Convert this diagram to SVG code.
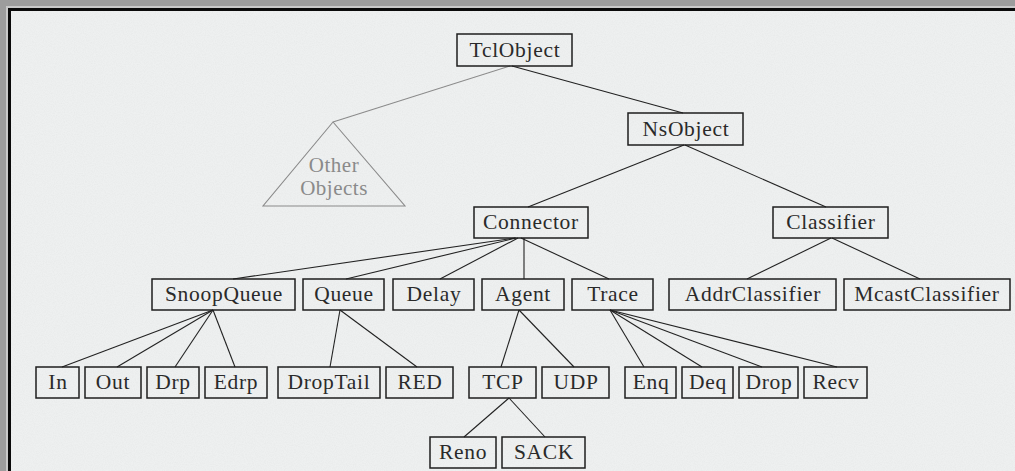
<svg xmlns="http://www.w3.org/2000/svg" width="1015" height="471" viewBox="0 0 1015 471">
  <defs>
    <style>
      .box { fill: none; stroke: #1e1e1e; stroke-width: 1.5; }
      .lbl { font-family: "Liberation Serif", "Times New Roman", serif; font-size: 21.5px; letter-spacing: 0.7px; fill: #2a2a2a; text-anchor: middle; }
      .edge { stroke: #222; stroke-width: 1.1; fill: none; }
      .faint { stroke: #8a8a8a; stroke-width: 1.1; fill: none; }
      .faint-lbl { font-family: "Liberation Serif", "Times New Roman", serif; font-size: 21px; letter-spacing: 0.5px; fill: #8a8a8a; text-anchor: middle; }
    </style>
    <filter id="grain" x="0" y="0" width="100%" height="100%">
      <feTurbulence type="fractalNoise" baseFrequency="0.9" numOctaves="2" seed="3" result="n"/>
      <feColorMatrix in="n" type="matrix" values="0 0 0 0 0.6  0 0 0 0 0.61  0 0 0 0 0.61  0 0 0 -1.6 1.05"/>
    </filter>
  </defs>

  <!-- canvas and window frame -->
  <rect x="0" y="0" width="1015" height="471" fill="#eef0f0"/>
  <rect x="0" y="0" width="1015" height="471" filter="url(#grain)" opacity="0.18"/>
  <rect x="0" y="0" width="1015" height="6" fill="#9d9d9d"/>
  <rect x="0" y="0" width="6" height="471" fill="#9d9d9d"/>
  <rect x="6" y="6" width="1009" height="2" fill="#c9c9c9"/>
  <rect x="6" y="6" width="2" height="465" fill="#c9c9c9"/>
  <rect x="8" y="8" width="1007" height="3" fill="#0a0a0a"/>
  <rect x="8" y="8" width="3" height="463" fill="#0a0a0a"/>

  <!-- connectors -->
  <g id="edges">
    <line class="faint" x1="510" y1="66" x2="333" y2="122"/>
    <line class="edge" x1="512" y1="66" x2="683" y2="113"/>
    <line class="edge" x1="684" y1="145" x2="528" y2="207"/>
    <line class="edge" x1="685" y1="145" x2="826" y2="207"/>
    <line class="edge" x1="515" y1="238" x2="233" y2="279"/>
    <line class="edge" x1="516" y1="238" x2="346" y2="279"/>
    <line class="edge" x1="518" y1="238" x2="440" y2="279"/>
    <line class="edge" x1="524" y1="238" x2="524" y2="279"/>
    <line class="edge" x1="521" y1="238" x2="609" y2="279"/>
    <line class="edge" x1="831" y1="238" x2="747" y2="279"/>
    <line class="edge" x1="832" y1="238" x2="920" y2="279"/>
    <line class="edge" x1="213" y1="310" x2="62" y2="367"/>
    <line class="edge" x1="213" y1="310" x2="117" y2="367"/>
    <line class="edge" x1="213" y1="310" x2="175" y2="367"/>
    <line class="edge" x1="213" y1="310" x2="235" y2="367"/>
    <line class="edge" x1="340" y1="310" x2="330" y2="367"/>
    <line class="edge" x1="340" y1="310" x2="417" y2="367"/>
    <line class="edge" x1="519" y1="310" x2="501" y2="367"/>
    <line class="edge" x1="519" y1="310" x2="574" y2="367"/>
    <line class="edge" x1="610" y1="310" x2="644" y2="367"/>
    <line class="edge" x1="610" y1="310" x2="702" y2="367"/>
    <line class="edge" x1="610" y1="310" x2="762" y2="367"/>
    <line class="edge" x1="610" y1="310" x2="837" y2="367"/>
    <line class="edge" x1="509" y1="398" x2="464" y2="437"/>
    <line class="edge" x1="509" y1="398" x2="545" y2="437"/>
  </g>

  <!-- collapsed subtree -->
  <g id="other-objects">
    <polygon class="faint" points="333,122 263,206 405,206"/>
    <text class="faint-lbl" x="334" y="172">Other</text>
    <text class="faint-lbl" x="334" y="195">Objects</text>
  </g>

  <!-- level 0-1 -->
  <g id="TclObject"><rect class="box" x="457" y="34" width="115" height="32"/><text class="lbl" x="515" y="57">TclObject</text></g>
  <g id="NsObject"><rect class="box" x="628" y="113" width="115" height="32"/><text class="lbl" x="686" y="136">NsObject</text></g>

  <!-- level 2 -->
  <g id="Connector"><rect class="box" x="474" y="207" width="114" height="31"/><text class="lbl" x="531" y="229">Connector</text></g>
  <g id="Classifier"><rect class="box" x="773" y="207" width="115" height="31"/><text class="lbl" x="831" y="229">Classifier</text></g>

  <!-- level 3 -->
  <g id="SnoopQueue"><rect class="box" x="152" y="279" width="143" height="31"/><text class="lbl" x="224" y="301">SnoopQueue</text></g>
  <g id="Queue"><rect class="box" x="303" y="279" width="81" height="31"/><text class="lbl" x="344" y="301">Queue</text></g>
  <g id="Delay"><rect class="box" x="393" y="279" width="81" height="31"/><text class="lbl" x="434" y="301">Delay</text></g>
  <g id="Agent"><rect class="box" x="482" y="279" width="82" height="31"/><text class="lbl" x="523" y="301">Agent</text></g>
  <g id="Trace"><rect class="box" x="572" y="279" width="81" height="31"/><text class="lbl" x="613" y="301">Trace</text></g>
  <g id="AddrClassifier"><rect class="box" x="669" y="279" width="167" height="31"/><text class="lbl" x="753" y="301">AddrClassifier</text></g>
  <g id="McastClassifier"><rect class="box" x="844" y="279" width="166" height="31"/><text class="lbl" x="927" y="301">McastClassifier</text></g>

  <!-- level 4 -->
  <g id="In"><rect class="box" x="36" y="367" width="43" height="31"/><text class="lbl" x="58" y="389">In</text></g>
  <g id="Out"><rect class="box" x="85" y="367" width="56" height="31"/><text class="lbl" x="113" y="389">Out</text></g>
  <g id="Drp"><rect class="box" x="147" y="367" width="52" height="31"/><text class="lbl" x="173" y="389">Drp</text></g>
  <g id="Edrp"><rect class="box" x="205" y="367" width="62" height="31"/><text class="lbl" x="236" y="389">Edrp</text></g>
  <g id="DropTail"><rect class="box" x="278" y="367" width="102" height="31"/><text class="lbl" x="329" y="389">DropTail</text></g>
  <g id="RED"><rect class="box" x="386" y="367" width="67" height="31"/><text class="lbl" x="420" y="389">RED</text></g>
  <g id="TCP"><rect class="box" x="469" y="367" width="67" height="31"/><text class="lbl" x="503" y="389">TCP</text></g>
  <g id="UDP"><rect class="box" x="542" y="367" width="67" height="31"/><text class="lbl" x="576" y="389">UDP</text></g>
  <g id="Enq"><rect class="box" x="625" y="367" width="51" height="31"/><text class="lbl" x="651" y="389">Enq</text></g>
  <g id="Deq"><rect class="box" x="682" y="367" width="51" height="31"/><text class="lbl" x="708" y="389">Deq</text></g>
  <g id="Drop"><rect class="box" x="739" y="367" width="59" height="31"/><text class="lbl" x="769" y="389">Drop</text></g>
  <g id="Recv"><rect class="box" x="804" y="367" width="63" height="31"/><text class="lbl" x="836" y="389">Recv</text></g>

  <!-- level 5 -->
  <g id="Reno"><rect class="box" x="430" y="437" width="66" height="31"/><text class="lbl" x="463" y="459">Reno</text></g>
  <g id="SACK"><rect class="box" x="502" y="437" width="83" height="31"/><text class="lbl" x="544" y="459">SACK</text></g>
</svg>
